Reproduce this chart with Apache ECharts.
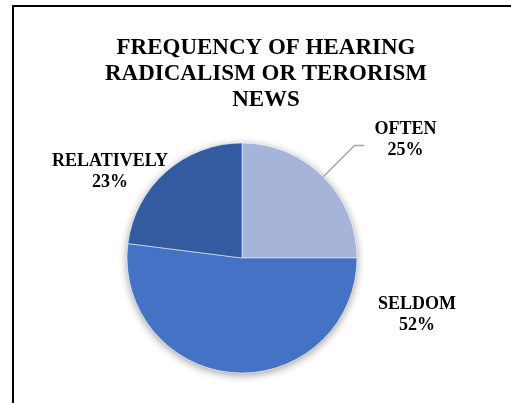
<!DOCTYPE html>
<html><head><meta charset="utf-8">
<script src="https://cdn.jsdelivr.net/npm/echarts@6/dist/echarts.min.js"></script>
<style>
html,body{margin:0;padding:0;background:#fff}
#c{position:absolute;left:0;top:0;width:511px;height:403px}
#frame{position:absolute;left:12px;top:5px;width:520px;height:420px;border-left:2px solid #000;border-top:2px solid #000;pointer-events:none}
</style></head><body>
<div id="c"></div><div id="frame"></div>
<script>
const titleLines = ['FREQUENCY OF HEARING', 'RADICALISM OR TERORISM', 'NEWS'];
const categories = ['OFTEN', 'SELDOM', 'RELATIVELY'];
const values = [25, 52, 23];
const colors = ['#a6b4da', '#4472c4', '#345ba0'];

const FONT = '"Liberation Serif","Times New Roman",serif';
const chart = echarts.init(document.getElementById('c'), null, {renderer: 'canvas'});

const data = categories.map((name, i) => ({
  name: name,
  value: values[i],
  itemStyle: {color: colors[i]},
  labelLine: {show: i === 0}
}));

const total = values.reduce((a, b) => a + b, 0);

chart.setOption({
  animation: false,
  title: {
    text: titleLines.join('\n'),
    left: 261,
    top: 30,
    textAlign: 'center',
    textStyle: {fontFamily: FONT, fontWeight: 'bold', fontSize: 23, lineHeight: 26, color: '#000'}
  },
  series: [
    {
      type: 'pie',
      silent: true,
      center: [242, 258],
      radius: 115,
      z: 1,
      label: {show: false},
      labelLine: {show: false},
      itemStyle: {color: '#ffffff', shadowBlur: 8, shadowColor: 'rgba(0,0,0,0.4)', shadowOffsetY: 2},
      data: [{name: 'all', value: total}]
    },
    {
      type: 'pie',
      center: [242, 258],
      radius: 115,
      startAngle: 90,
      clockwise: true,
      z: 2,
      itemStyle: {borderColor: '#ffffff', borderWidth: 0.5},
      label: {
        show: true,
        position: 'outside',
        overflow: 'none',
        distanceToLabelLine: 10,
        padding: [0, 0, 12, 0],
        formatter: p => '{c|' + p.name + '}\n{c|' + Math.round(p.percent) + '%}',
        rich: {
          c: {align: 'center', fontFamily: FONT, fontWeight: 'bold', fontSize: 18, lineHeight: 21, color: '#000'}
        }
      },
      labelLine: {show: true, length: 44, length2: 10, lineStyle: {color: '#a6a6a6', width: 1.5}},
      labelLayout: function (p) {
        if (p.dataIndex === 1) return {x: 417, y: 321, align: 'center', verticalAlign: 'middle'};
        if (p.dataIndex === 2) return {x: 110, y: 178, align: 'center', verticalAlign: 'middle'};
        return {};
      },
      data: data
    }
  ]
});
</script>
</body></html>
